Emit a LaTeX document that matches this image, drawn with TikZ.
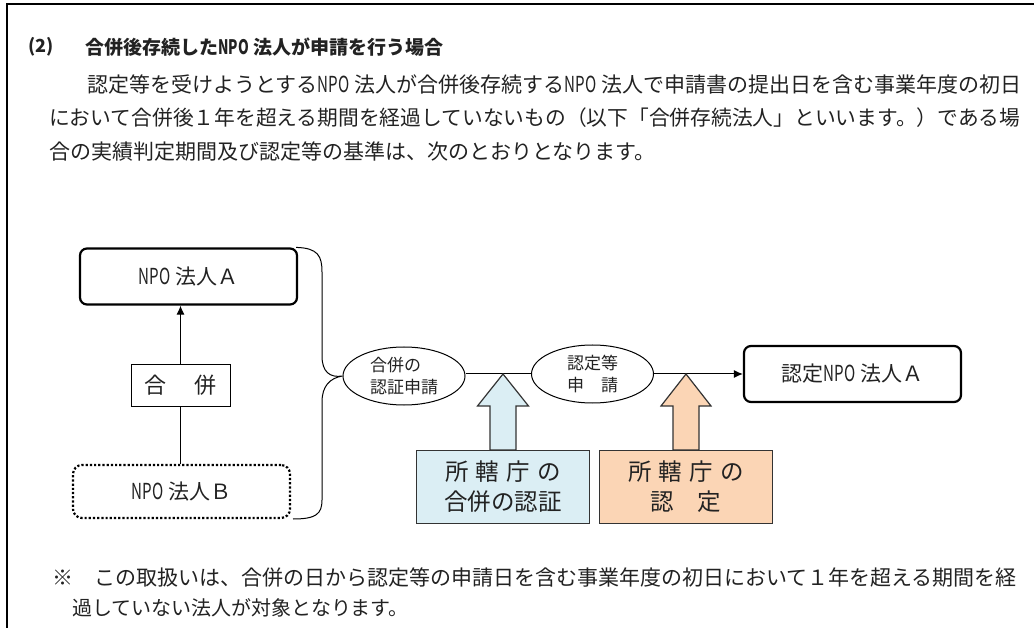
\documentclass[tikz,border=0pt]{standalone}
\usepackage{fontspec}
\usepackage{graphicx}
\setmainfont{Noto Sans CJK JP}
\usetikzlibrary{calc,shapes.geometric,arrows.meta}
\newcommand\npo{\scalebox{0.72}[1.05]{NPO}\hspace{0.25em}}
\definecolor{inkc}{HTML}{222222}
\definecolor{bluefill}{HTML}{DBEEF4}
\definecolor{orangefill}{HTML}{FBD5B5}
\tikzset{
  txt/.style={inner sep=0pt, text=inkc},
  entbox/.style={draw=black, line width=2.2pt, rounded corners=7pt, minimum width=217pt, minimum height=56pt, inner sep=0pt, font=\fontsize{21}{24}\selectfont, text=inkc},
  dotbox/.style={draw=black, line width=2.2pt, dotted, rounded corners=9pt, minimum width=217pt, minimum height=53pt, inner sep=0pt, font=\fontsize{21}{24}\selectfont, text=inkc},
  mergebox/.style={draw=black, line width=1pt, minimum width=99pt, minimum height=41pt, inner sep=0pt, font=\fontsize{22}{24}\selectfont, text=inkc},
  oval/.style={draw=black, line width=1pt, ellipse, minimum width=122pt, minimum height=58pt, inner sep=0pt, align=left, font=\fontsize{17}{22}\selectfont, text=inkc},
  authbox/.style={draw=black!80, line width=1.2pt, minimum width=173pt, minimum height=73pt, inner sep=0pt, align=center, font=\fontsize{23.5}{30}\selectfont, text=inkc},
  blockarrow/.style={draw=black!80, line width=1.2pt},
  conn/.style={draw=black, line width=1pt},
  connarrow/.style={draw=black, line width=1pt, -{Latex[length=9pt,width=8pt]}},
}
\begin{document}
\begin{tikzpicture}[x=1pt,y=1pt]
\useasboundingbox (0,0) rectangle (1034,-628);
% frame
\draw[line width=2pt] (7,-628) -- (7,-4) -- (1034,-4);
% heading
\node[txt, anchor=west, font=\fontsize{18}{20}\selectfont\bfseries] (hnum) at (28,-47) {(2)};
\node[txt, anchor=west, font=\fontsize{19}{20}\selectfont\bfseries] (htitle) at (85,-47) {合併後存続した\npo 法人が申請を行う場合};
% paragraph
\node[txt, anchor=west, font=\fontsize{21}{24}\selectfont] (p1) at (87,-85) {認定等を受けようとする\npo 法人が合併後存続する\npo 法人で申請書の提出日を含む事業年度の初日};
\node[txt, anchor=west, font=\fontsize{20.75}{24}\selectfont] (p2) at (49,-118) {において合併後１年を超える期間を経過していないもの（以下「合併存続法人」といいます。）である場};
\node[txt, anchor=west, font=\fontsize{21}{24}\selectfont] (p3) at (49,-152) {合の実績判定期間及び認定等の基準は、次のとおりとなります。};
% entities
\node[entbox] (A) at (188.5,-276.5) {\npo 法人Ａ};
\node[mergebox] (M) at (180.5,-385.5) {合\hspace{1.25em}併};
\node[dotbox] (B) at (181.5,-491.5) {\npo 法人Ｂ};
\draw[conn] (B.north -| M.south) -- (M.south);
\draw[connarrow] (M.north) -- (M.north |- A.south);
% ovals
\node[oval] (E1) at (404,-376) {合併の\\認証申請};
\node[oval] (E2) at (592.5,-374) {認定等\\申\hspace{1em}請};
\node[entbox] (C) at (852.5,-374) {認定\npo 法人Ａ};
% brace
\coordinate (bt) at ($(A.north east)+(-2,0)$);
\coordinate (bb) at (293,-519);
\draw[conn] (bt) .. controls (318,-248) and (322,-256) .. (322,-272) -- (322,-356)
  .. controls (322,-372) and (330,-378) .. (E1.west)
  .. controls (330,-378) and (322,-386) .. (322,-402) -- (322,-500)
  .. controls (322,-514) and (316,-519) .. (bb);
% main flow
\draw[conn] (E1.east |- E2.west) -- (E2.west);
\draw[connarrow] (E2.east) -- (C.west);
% authority boxes
\node[authbox, fill=bluefill] (G1) at (503,-487) {所\hspace{0.3em}轄\hspace{0.3em}庁\hspace{0.3em}の\\合併の認証};
\node[authbox, fill=orangefill] (G2) at (686,-487) {所\hspace{0.3em}轄\hspace{0.3em}庁\hspace{0.3em}の\\認　定};
\coordinate (t1) at (G1.north |- E2.west);
\coordinate (t2) at (G2.north |- E2.west);
\draw[blockarrow, fill=bluefill] (t1) -- ($(t1)+(25.5,-32)$) -- ($(t1)+(13,-32)$) -- ($(G1.north)+(13,0)$) -- ($(G1.north)+(-13,0)$) -- ($(t1)+(-13,-32)$) -- ($(t1)+(-25.5,-32)$) -- cycle;
\draw[blockarrow, fill=orangefill] (t2) -- ($(t2)+(25,-32)$) -- ($(t2)+(13,-32)$) -- ($(G2.north)+(13,0)$) -- ($(G2.north)+(-13,0)$) -- ($(t2)+(-13,-32)$) -- ($(t2)+(-25,-32)$) -- cycle;
% note
\node[txt, anchor=west, font=\fontsize{21}{22}\selectfont] (n1) at (52,-578) {※　この取扱いは、合併の日から認定等の申請日を含む事業年度の初日において１年を超える期間を経};
\node[txt, anchor=west, font=\fontsize{20}{22}\selectfont] (n2) at (72,-608) {過していない法人が対象となります。};
\end{tikzpicture}
\end{document}
